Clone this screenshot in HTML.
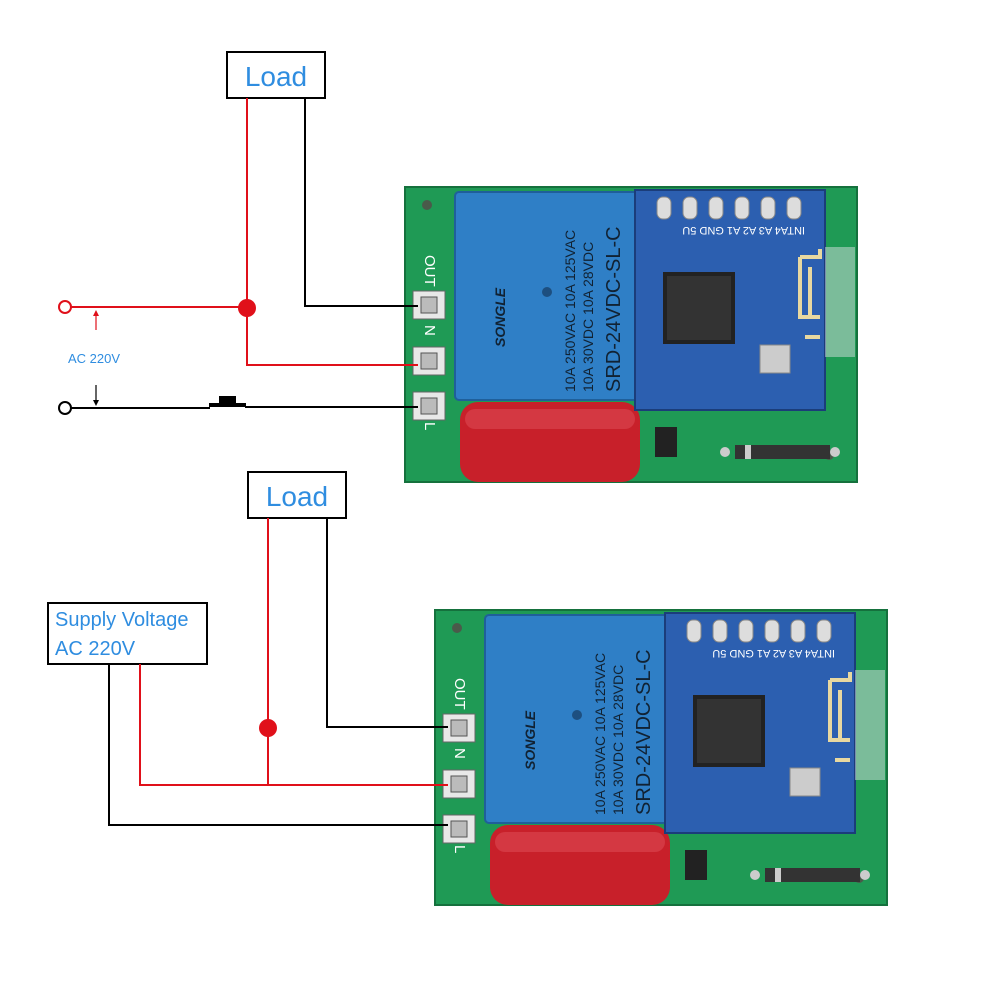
<!DOCTYPE html>
<html><head><meta charset="utf-8"><style>
html,body{margin:0;padding:0;background:#fff;}
svg{display:block;}
text{font-family:"Liberation Sans",sans-serif;}
</style></head><body>
<svg width="1000" height="1000" viewBox="0 0 1000 1000" xmlns="http://www.w3.org/2000/svg">
<defs>
<g id="board">
  <!-- PCB -->
  <rect x="0" y="0" width="452" height="295" fill="#1f9a55"/>
  <rect x="0" y="0" width="452" height="295" fill="none" stroke="#15713d" stroke-width="2"/>
  <circle cx="22" cy="18" r="5" fill="#4a5a4a"/>
  <circle cx="424" cy="268" r="5" fill="#4a5a4a"/>
  <!-- side labels -->
  <text x="20" y="68" transform="rotate(90 20 68)" font-size="15" fill="#fff">OUT</text>
  <text x="20" y="138" transform="rotate(90 20 138)" font-size="15" fill="#fff">N</text>
  <text x="20" y="235" transform="rotate(90 20 235)" font-size="15" fill="#fff">L</text>
  <!-- terminals -->
  <rect x="8" y="104" width="32" height="28" fill="#e8e8e8" stroke="#666"/>
  <rect x="8" y="160" width="32" height="28" fill="#e8e8e8" stroke="#666"/>
  <rect x="8" y="205" width="32" height="28" fill="#e8e8e8" stroke="#666"/>
  <rect x="16" y="110" width="16" height="16" fill="#bbb" stroke="#555"/>
  <rect x="16" y="166" width="16" height="16" fill="#bbb" stroke="#555"/>
  <rect x="16" y="211" width="16" height="16" fill="#bbb" stroke="#555"/>
  <!-- relay -->
  <rect x="50" y="5" width="185" height="208" rx="4" fill="#2f7fc6"/>
  <rect x="50" y="5" width="185" height="208" rx="4" fill="none" stroke="#1f5f9a" stroke-width="2"/>
  <text x="100" y="160" transform="rotate(-90 100 160)" font-size="14" fill="#123" font-weight="bold" font-style="italic">SONGLE</text>
  <text x="170" y="205" transform="rotate(-90 170 205)" font-size="14" fill="#123">10A 250VAC  10A 125VAC</text>
  <text x="188" y="205" transform="rotate(-90 188 205)" font-size="14" fill="#123">10A  30VDC  10A  28VDC</text>
  <text x="215" y="205" transform="rotate(-90 215 205)" font-size="20" fill="#123">SRD-24VDC-SL-C</text>
  <circle cx="142" cy="105" r="5" fill="#1d4f80"/>
  <!-- capacitor -->
  <rect x="55" y="215" width="180" height="80" rx="18" fill="#c8202a"/>
  <rect x="60" y="222" width="170" height="20" rx="10" fill="#e0505a" opacity="0.5"/>
  <!-- BT module -->
  <rect x="230" y="3" width="190" height="220" fill="#2c5fb0" stroke="#1b3d7a" stroke-width="2"/>
  <rect x="240" y="8" width="175" height="28" fill="#2c5fb0"/>
  <g fill="#ddd" stroke="#888">
    <rect x="252" y="10" width="14" height="22" rx="6"/><rect x="278" y="10" width="14" height="22" rx="6"/>
    <rect x="304" y="10" width="14" height="22" rx="6"/><rect x="330" y="10" width="14" height="22" rx="6"/>
    <rect x="356" y="10" width="14" height="22" rx="6"/><rect x="382" y="10" width="14" height="22" rx="6"/>
  </g>
  <text x="400" y="40" transform="rotate(180 400 40)" font-size="11" fill="#fff">INTA4 A3 A2 A1 GND 5U</text>
  <rect x="258" y="85" width="72" height="72" fill="#222"/>
  <rect x="262" y="89" width="64" height="64" fill="#333"/>
  <rect x="355" y="158" width="30" height="28" fill="#ccc" stroke="#888"/>
  <!-- antenna -->
  <path d="M395 70 h20 v-8 M395 70 v60 h20 M405 130 v-50 M400 150 h15" fill="none" stroke="#e8d8a0" stroke-width="4"/>
  <rect x="420" y="60" width="30" height="110" fill="#d8dde0" opacity="0.5"/>
  <!-- bridge & diode -->
  <rect x="250" y="240" width="22" height="30" fill="#222"/>
  <rect x="330" y="258" width="95" height="14" fill="#333"/>
  <rect x="340" y="258" width="6" height="14" fill="#ccc"/>
  <circle cx="320" cy="265" r="5" fill="#ccc"/><circle cx="430" cy="265" r="5" fill="#ccc"/>
</g>
</defs>

<!-- TOP DIAGRAM -->
<use href="#board" x="405" y="187"/>
<rect x="227" y="52" width="98" height="46" fill="#fff" stroke="#000" stroke-width="2"/>
<text x="276" y="86" font-size="28" fill="#2f8de0" text-anchor="middle">Load</text>
<polyline points="247,98 247,365 418,365" fill="none" stroke="#e0101a" stroke-width="2"/>
<polyline points="305,98 305,306 418,306" fill="none" stroke="#000" stroke-width="2"/>
<line x1="71" y1="307" x2="247" y2="307" stroke="#e0101a" stroke-width="2"/>
<circle cx="247" cy="308" r="9" fill="#e0101a"/>
<circle cx="65" cy="307" r="6" fill="#fff" stroke="#e0101a" stroke-width="2"/>
<line x1="96" y1="330" x2="96" y2="314" stroke="#e0101a" stroke-width="1.2"/>
<path d="M93 316 L96 310 L99 316Z" fill="#e0101a"/>
<text x="68" y="363" font-size="13" fill="#2f8de0">AC 220V</text>
<line x1="96" y1="385" x2="96" y2="402" stroke="#000" stroke-width="1.2"/>
<path d="M93 400 L96 406 L99 400Z" fill="#000"/>
<circle cx="65" cy="408" r="6" fill="#fff" stroke="#000" stroke-width="2"/>
<line x1="71" y1="408" x2="210" y2="408" stroke="#000" stroke-width="2"/>
<rect x="209" y="403" width="37" height="4" fill="#000"/>
<rect x="219" y="396" width="17" height="8" fill="#000"/>
<line x1="245" y1="407" x2="418" y2="407" stroke="#000" stroke-width="2"/>

<!-- BOTTOM DIAGRAM -->
<use href="#board" x="435" y="610"/>
<rect x="248" y="472" width="98" height="46" fill="#fff" stroke="#000" stroke-width="2"/>
<text x="297" y="506" font-size="28" fill="#2f8de0" text-anchor="middle">Load</text>
<rect x="48" y="603" width="159" height="61" fill="#fff" stroke="#000" stroke-width="2"/>
<text x="55" y="626" font-size="20" fill="#2f8de0">Supply Voltage</text>
<text x="55" y="655" font-size="20" fill="#2f8de0">AC 220V</text>
<line x1="268" y1="518" x2="268" y2="785" stroke="#e0101a" stroke-width="2"/>
<circle cx="268" cy="728" r="9" fill="#e0101a"/>
<polyline points="327,518 327,727 448,727" fill="none" stroke="#000" stroke-width="2"/>
<polyline points="140,664 140,785 448,785" fill="none" stroke="#e0101a" stroke-width="2"/>
<polyline points="109,664 109,825 448,825" fill="none" stroke="#000" stroke-width="2"/>
</svg>
</body></html>
